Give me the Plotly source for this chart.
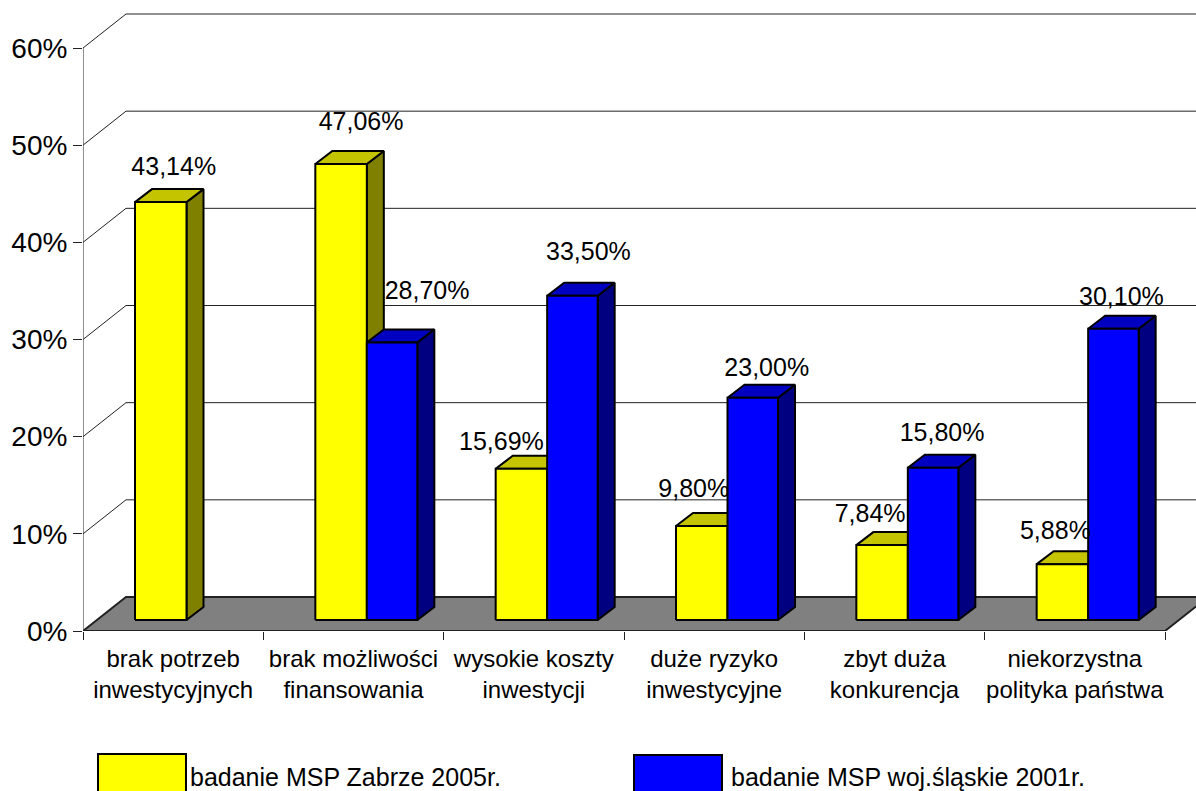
import plotly.graph_objects as go

categories = ["brak potrzeb<br>inwestycyjnych", "brak możliwości<br>finansowania",
              "wysokie koszty<br>inwestycji", "duże ryzyko<br>inwestycyjne",
              "zbyt duża<br>konkurencja", "niekorzystna<br>polityka państwa"]
series_names = ["badanie MSP Zabrze 2005r.", "badanie MSP woj.śląskie 2001r."]
zabrze_2005 = [43.14, 47.06, 15.69, 9.80, 7.84, 5.88]
slaskie_2001 = [None, 28.70, 33.50, 23.00, 15.80, 30.10]
y_ticks = [0, 10, 20, 30, 40, 50, 60]
y_tick_labels = ["0%", "10%", "20%", "30%", "40%", "50%", "60%"]

# Hand-placed label offsets from each bar's front top centre, in pixels (right, up)
yellow_label_shift = [(13, 33), (20, 40), (-20, 25), (-8, 35), (-12, 29), (-7, 31)]
blue_label_shift = [None, (35, 50), (16, 42), (14, 28), (9, 33), (8, 30)]

W, H = 1196, 791
LEFT, RIGHT_FRONT = 83, 1165
ZERO_Y, SIXTY_Y, TOP_Y = 631, 48, 8
PX_X = (RIGHT_FRONT - LEFT) / 6
PX_Y = (ZERO_Y - SIXTY_Y) / 60
WALL_DX, WALL_DY = 43 / PX_X, 34 / PX_Y
DEPTH_DX, DEPTH_DY = 17 / PX_X, 13 / PX_Y
BAR_START = 52 / PX_X
BAR_W = (51.5 / PX_X, 50.5 / PX_X)
BASE = (ZERO_Y - 620) / PX_Y
TOP_SHIFT = 1.0

YELLOW = ("#FFFF00", "#C4C400", "#808000")
BLUE = ("#0000FF", "#0000C0", "#000080")

fig = go.Figure()


def poly(xs, ys, fill, width=2, color="#000000"):
    fig.add_trace(go.Scatter(x=xs + xs[:1], y=ys + ys[:1], mode="lines", fill="toself",
                             fillcolor=fill, line=dict(color=color, width=width),
                             showlegend=False, hoverinfo="skip"))


# Back wall grid and left wall diagonals
gx, gy = [], []
for v in y_ticks[1:]:
    gx += [0, WALL_DX, 6 + WALL_DX, None]
    gy += [v, v + WALL_DY, v + WALL_DY, None]
fig.add_trace(go.Scatter(x=gx, y=gy, mode="lines", line=dict(color="#222222", width=1),
                         showlegend=False, hoverinfo="skip"))

# Floor
poly([0, 6, 6 + WALL_DX, WALL_DX], [0, 0, WALL_DY, WALL_DY], "#808080", 2, "#222222")


def bar(i, slot, value, colors):
    x0 = i + BAR_START + sum(BAR_W[:slot])
    x1 = x0 + BAR_W[slot]
    top = TOP_SHIFT + value
    poly([x1, x1 + DEPTH_DX, x1 + DEPTH_DX, x1],
         [BASE, BASE + DEPTH_DY, top + DEPTH_DY, top], colors[2])
    poly([x0, x0 + DEPTH_DX, x1 + DEPTH_DX, x1], [top, top + DEPTH_DY, top + DEPTH_DY, top], colors[1])
    poly([x0, x1, x1, x0], [BASE, BASE, top, top], colors[0])


for i, v in enumerate(zabrze_2005):
    bar(i, 0, v, YELLOW)
for i, v in enumerate(slaskie_2001):
    if v is not None:
        bar(i, 1, v, BLUE)

# Data labels
lx, ly, lt = [], [], []
for slot, (vals, shifts) in enumerate([(zabrze_2005, yellow_label_shift), (slaskie_2001, blue_label_shift)]):
    for i, v in enumerate(vals):
        if v is None:
            continue
        sx, sy = shifts[i]
        lx.append(i + BAR_START + sum(BAR_W[:slot]) + BAR_W[slot] / 2 + sx / PX_X)
        ly.append(TOP_SHIFT + v + sy / PX_Y)
        lt.append(f"{v:.2f}%".replace(".", ","))
fig.add_trace(go.Scatter(x=lx, y=ly, text=lt, mode="text", textposition="middle center",
                         textfont=dict(size=25, color="#000000"), cliponaxis=False,
                         showlegend=False, hoverinfo="skip"))


# Legend
def py(p):
    return (ZERO_Y - p) / (ZERO_Y - TOP_Y)


def px(p):
    return (p - LEFT) / (W - LEFT)


for (x0, x1, y0, fill, name, tx) in [(98, 186, 754, YELLOW[0], series_names[0], 188),
                                     (634, 722, 755, BLUE[0], series_names[1], 729)]:
    fig.add_shape(type="rect", xref="paper", yref="paper", x0=px(x0), x1=px(x1), y0=py(y0), y1=py(800),
                  fillcolor=fill, line=dict(color="#000000", width=2))
    fig.add_annotation(xref="paper", yref="paper", x=px(tx), y=py(777), text=name, showarrow=False,
                       xanchor="left", yanchor="middle", font=dict(size=25, color="#000000"))

fig.update_layout(
    width=W, height=H, margin=dict(l=LEFT, r=0, t=TOP_Y, b=H - ZERO_Y, autoexpand=False),
    paper_bgcolor="white", plot_bgcolor="white", showlegend=False,
    font=dict(family="Liberation Sans, Arial, sans-serif", color="#000000"),
    xaxis=dict(range=[0, (W - LEFT) / PX_X], tickmode="array", tickvals=[i + 0.5 for i in range(6)],
               ticktext=categories, ticks="", showgrid=False, zeroline=False, showline=False,
               tickfont=dict(size=24), ticklabelstandoff=11,
               minor=dict(tickmode="array", tickvals=list(range(7)), ticks="outside", ticklen=8,
                          tickcolor="#222222", tickwidth=1, showgrid=False)),
    yaxis=dict(range=[0, (ZERO_Y - TOP_Y) / PX_Y], tickmode="array", tickvals=y_ticks,
               ticktext=y_tick_labels, ticks="outside", ticklen=9, tickcolor="#222222", tickwidth=1,
               showgrid=False, zeroline=False, showline=False, tickfont=dict(size=28)),
)
# Left axis line stops at the 60% level
fig.add_trace(go.Scatter(x=[0, 0], y=[0, 60], mode="lines", line=dict(color="#222222", width=1),
                         cliponaxis=False, showlegend=False, hoverinfo="skip"))

fig.write_html("out.html", config={"displayModeBar": False},
               post_script="document.body.style.margin='0';document.body.style.overflow='hidden';")
